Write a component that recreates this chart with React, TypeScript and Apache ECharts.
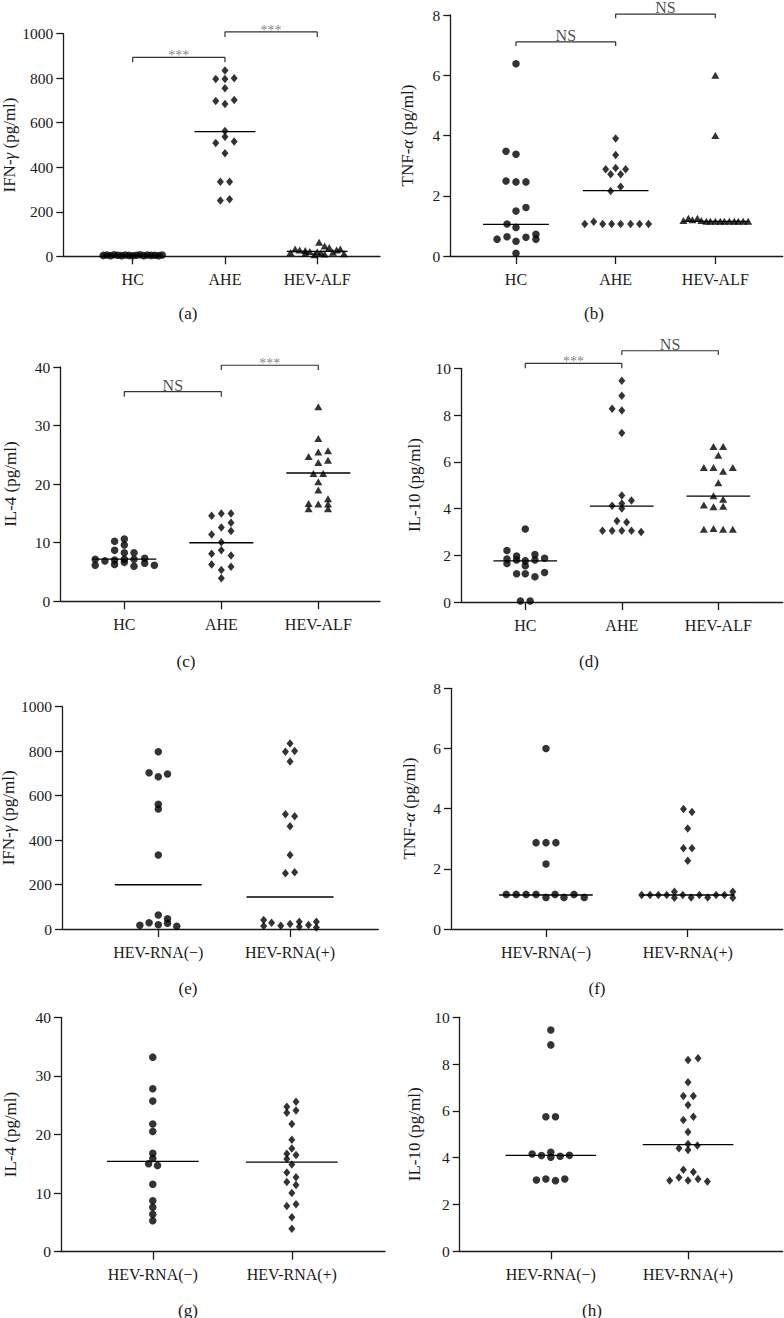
import React, { useEffect, useRef } from "react";
import * as echarts from "echarts";

const FONT = "Liberation Serif";
const CAT3 = ["HC", "AHE", "HEV-ALF"];
const CAT2 = ["HEV-RNA(−)", "HEV-RNA(+)"];

// ---------- (a) IFN-γ ----------
const A_HC = [4, 6, 3, 7, 5, 3, 6, 4, 2, 5, 7, 3, 6, 4, 5, 3, 6];
const A_HC_DX = [-0.32, -0.28, -0.24, -0.2, -0.16, -0.12, -0.08, -0.04, 0, 0.04, 0.08, 0.12, 0.16, 0.2, 0.24, 0.28, 0.32];
const A_AHE = [835, 797, 797, 800, 755, 698, 684, 702, 563, 537, 509, 516, 463, 335, 335, 251, 256];
const A_AHE_DX = [0, -0.1, 0, 0.1, 0, -0.1, 0, 0.1, 0, 0, -0.1, 0.1, 0, -0.05, 0.05, -0.05, 0.05];
const A_ALF = [63, 46, 40, 33, 33, 28, 28, 26, 22, 19, 18, 17, 15, 14, 12, 10, 7];
const A_ALF_DX = [0.02, 0.08, 0.13, -0.24, 0.25, -0.19, 0.21, -0.13, -0.08, 0.0, 0.17, -0.29, 0.04, -0.13, 0.29, 0.08, -0.03];
const A_MED = [5, 560, 22];

// ---------- (b) TNF-α ----------
const B_HC = [6.38, 3.48, 3.38, 2.49, 2.46, 2.46, 1.49, 1.61, 1.06, 0.95, 0.56, 0.64, 0.49, 0.62, 0.72, 0.56, 0.09];
const B_HC_DX = [0, -0.1, 0, -0.1, 0, 0.1, 0, 0.1, -0.09, 0, -0.19, -0.09, 0, 0.1, 0.2, 0.2, 0];
const B_AHE = [3.9, 3.35, 2.88, 2.92, 2.88, 2.71, 2.71, 2.3, 2.16, 1.06, 1.14, 1.06, 1.06, 1.06, 1.06, 1.06, 1.06];
const B_AHE_DX = [0, 0, -0.1, 0, 0.1, -0.05, 0.05, 0.05, -0.05, -0.31, -0.22, -0.13, -0.04, 0.05, 0.15, 0.24, 0.33];
const B_ALF = [6.0, 4.0, 1.18, 1.25, 1.2, 1.25, 1.18, 1.15, 1.15, 1.15, 1.15, 1.15, 1.15, 1.15, 1.15, 1.15, 1.15];
const B_ALF_DX = [0, 0, -0.32, -0.27, -0.23, -0.18, -0.14, -0.09, -0.05, 0, 0.05, 0.09, 0.14, 0.19, 0.23, 0.28, 0.33];
const B_MED = [1.05, 2.17, 1.15];

// ---------- (c) IL-4 ----------
const C_HC = [10.24, 10.64, 9.62, 8.7, 8.3, 8.3, 7.17, 6.9, 7.05, 7.17, 7.17, 7.34, 6.14, 6.3, 6.65, 5.97, 6.49, 6.14];
const C_HC_DX = [-0.1, 0, 0, -0.1, 0, 0.1, -0.3, -0.2, -0.1, 0, 0.1, 0.21, -0.3, -0.1, 0, 0.1, 0.21, 0.31];
const C_AHE = [14.6, 15.0, 15.0, 12.6, 13.4, 11.4, 12.0, 10.1, 8.1, 8.7, 7.8, 6.3, 5.9, 5.35, 3.93];
const C_AHE_DX = [-0.1, 0, 0.1, 0, 0.1, -0.1, 0.1, 0, -0.1, 0, 0.1, -0.1, 0.1, 0, 0];
const C_ALF = [33.2, 27.8, 24.7, 25.5, 25.7, 23.7, 24.1, 21.8, 21.8, 20.4, 19.0, 16.7, 16.6, 17.5, 16.6, 15.8, 15.8];
const C_ALF_DX = [0, 0, -0.1, 0, 0.1, 0, 0.1, -0.05, 0.05, 0, 0, -0.1, 0, 0.1, 0.1, -0.1, 0.1];
const C_MED = [7.2, 10.0, 21.9];

// ---------- (d) IL-10 ----------
const D_HC = [3.12, 2.2, 1.97, 2.03, 1.87, 1.84, 1.8, 1.77, 1.8, 1.65, 1.55, 1.21, 1.21, 1.08, 1.26, 0.04, 0.04];
const D_HC_DX = [0, -0.19, -0.09, 0.1, 0.2, -0.19, -0.09, 0, 0.1, -0.19, 0, -0.09, 0, 0.1, 0.2, -0.05, 0.05];
const D_AHE = [9.47, 8.83, 8.27, 8.19, 7.23, 4.56, 4.12, 4.22, 4.34, 4.0, 3.47, 3.41, 3.05, 3.05, 3.05, 3.05, 3.0];
const D_AHE_DX = [0, 0, -0.1, 0, 0, 0, -0.1, 0, 0.1, 0, -0.05, 0.05, -0.2, -0.1, 0, 0.1, 0.2];
const D_ALF = [6.65, 6.65, 6.28, 5.76, 5.76, 5.6, 5.76, 5.1, 4.55, 4.4, 4.15, 4.08, 4.1, 3.11, 3.15, 3.11, 3.11];
const D_ALF_DX = [-0.05, 0.05, 0, -0.15, -0.05, 0.05, 0.15, 0, -0.05, 0.05, -0.15, -0.05, 0.05, -0.15, -0.05, 0.05, 0.15];
const D_MED = [1.76, 4.1, 4.53];

// ---------- (e) IFN-γ by HEV-RNA ----------
const E_NEG = [797, 703, 685, 697, 561, 540, 333, 63, 46, 28, 17, 19, 26, 12];
const E_NEG_DX = [0, -0.07, 0, 0.07, 0, 0, 0, 0, 0.07, -0.07, -0.14, 0, 0.07, 0.14];
const E_POS = [835, 797, 801, 754, 516, 507, 462, 333, 251, 255, 40, 14, 28, 15, 22, 33, 10, 18, 33, 7];
const E_POS_DX = [0, -0.035, 0.035, 0, -0.035, 0.035, 0, 0, -0.035, 0.035, -0.2, -0.2, -0.14, -0.07, 0, 0.07, 0.07, 0.14, 0.2, 0.2];
const E_MED = [199, 144];

// ---------- (f) TNF-α by HEV-RNA ----------
const F_NEG = [6.0, 2.87, 2.87, 2.87, 2.16, 1.15, 1.15, 1.15, 1.15, 1.05, 1.15, 1.05, 1.15, 1.05];
const F_NEG_DX = [0, -0.07, 0, 0.07, 0, -0.28, -0.21, -0.14, -0.07, 0, 0.064, 0.127, 0.198, 0.27];
const F_POS = [3.99, 3.89, 3.34, 2.68, 2.68, 2.27, 1.13, 1.13, 1.13, 1.13, 1.24, 1.04, 1.13, 1.05, 1.13, 1.05, 1.13, 1.13, 1.24, 1.04];
const F_POS_DX = [-0.03, 0.03, 0, -0.03, 0.03, 0, -0.325, -0.266, -0.207, -0.148, -0.094, -0.094, -0.035, 0.024, 0.082, 0.141, 0.2, 0.259, 0.318, 0.318];
const F_MED = [1.13, 1.13];

// ---------- (g) IL-4 by HEV-RNA ----------
const G_NEG = [33.2, 27.8, 25.7, 21.8, 20.5, 16.8, 15.9, 15.0, 14.7, 11.5, 8.7, 7.6, 6.4, 5.3];
const G_NEG_DX = [0, 0, 0, 0, 0, 0, 0, -0.03, 0.034, 0, 0, 0, 0, 0];
const G_POS = [24.75, 25.6, 23.7, 24.1, 21.8, 19.1, 17.6, 16.7, 16.5, 15.8, 14.9, 13.5, 12.7, 11.9, 11.4, 10.0, 7.8, 8.1, 5.9, 3.9];
const G_POS_DX = [-0.036, 0.03, -0.036, 0.03, 0, 0, 0, -0.036, 0.03, -0.036, 0, -0.036, 0.03, -0.036, 0.03, 0, -0.036, 0.03, 0, 0];
const G_MED = [15.4, 15.3];

// ---------- (h) IL-10 by HEV-RNA ----------
const H_NEG = [9.46, 8.82, 5.75, 5.75, 4.16, 4.09, 4.23, 4.02, 4.06, 4.1, 3.05, 3.09, 3.02, 3.09];
const H_NEG_DX = [0, 0, -0.036, 0.034, -0.136, -0.068, 0, 0, 0.068, 0.136, -0.105, -0.036, 0.034, 0.102];
const H_POS = [8.18, 8.25, 7.22, 6.64, 6.64, 6.25, 5.61, 5.75, 5.1, 4.59, 4.52, 4.4, 4.33, 3.48, 3.39, 3.03, 3.15, 3.03, 3.09, 2.98];
const H_POS_DX = [0, 0.073, 0, -0.034, 0.039, 0, -0.034, 0.039, 0, 0, 0.068, -0.066, 0, -0.034, 0.039, -0.134, -0.066, 0, 0.073, 0.141];
const H_MED = [4.1, 4.56];

// significance brackets: [from group, to group, level, drop, text]
type Sig = [number, number, number, number, string];
const A_SIG: Sig[] = [[1, 2, 894, 22, "***"], [2, 3, 1008, 23, "***"]];
const B_SIG: Sig[] = [[1, 2, 7.11, 0.14, "NS"], [2, 3, 8.03, 0.14, "NS"]];
const C_SIG: Sig[] = [[1, 2, 35.8, 0.9, "NS"], [2, 3, 40.3, 0.8, "***"]];
const D_SIG: Sig[] = [[1, 2, 10.21, 0.21, "***"], [2, 3, 10.75, 0.18, "NS"]];

const Y_NAMES = ["IFN-{i|γ} (pg/ml)", "TNF-{i|α} (pg/ml)", "IL-4 (pg/ml)", "IL-10 (pg/ml)"];
const LETTERS = ["(a)", "(b)", "(c)", "(d)", "(e)", "(f)", "(g)", "(h)"];

const SYM3 = ["circle", "diamond", "triangle"];
const SYM2 = ["circle", "diamond"];
const NOSIG: Sig[] = [];

const PANELS = [
  { cats: CAT3, yMax: 1000, yStep: 200, name: Y_NAMES[0], vals: [A_HC, A_AHE, A_ALF], dx: [A_HC_DX, A_AHE_DX, A_ALF_DX], med: A_MED, sym: SYM3, sig: A_SIG },
  { cats: CAT3, yMax: 8, yStep: 2, name: Y_NAMES[1], vals: [B_HC, B_AHE, B_ALF], dx: [B_HC_DX, B_AHE_DX, B_ALF_DX], med: B_MED, sym: SYM3, sig: B_SIG },
  { cats: CAT3, yMax: 40, yStep: 10, name: Y_NAMES[2], vals: [C_HC, C_AHE, C_ALF], dx: [C_HC_DX, C_AHE_DX, C_ALF_DX], med: C_MED, sym: SYM3, sig: C_SIG },
  { cats: CAT3, yMax: 10, yStep: 2, name: Y_NAMES[3], vals: [D_HC, D_AHE, D_ALF], dx: [D_HC_DX, D_AHE_DX, D_ALF_DX], med: D_MED, sym: SYM3, sig: D_SIG },
  { cats: CAT2, yMax: 1000, yStep: 200, name: Y_NAMES[0], vals: [E_NEG, E_POS], dx: [E_NEG_DX, E_POS_DX], med: E_MED, sym: SYM2, sig: NOSIG },
  { cats: CAT2, yMax: 8, yStep: 2, name: Y_NAMES[1], vals: [F_NEG, F_POS], dx: [F_NEG_DX, F_POS_DX], med: F_MED, sym: SYM2, sig: NOSIG },
  { cats: CAT2, yMax: 40, yStep: 10, name: Y_NAMES[2], vals: [G_NEG, G_POS], dx: [G_NEG_DX, G_POS_DX], med: G_MED, sym: SYM2, sig: NOSIG },
  { cats: CAT2, yMax: 10, yStep: 2, name: Y_NAMES[3], vals: [H_NEG, H_POS], dx: [H_NEG_DX, H_POS_DX], med: H_MED, sym: SYM2, sig: NOSIG },
];

// layout (pixels) of each panel's plotting area and x-range in group units
const LAYOUT = [
  { left: 63.3, top: 33.7, width: 316.7, height: 222.6, xMin: 0.248, xMax: 3.68, gap: 44, lx: 188, ly: 313 },
  { left: 450.3, top: 15, width: 332.4, height: 241, xMin: 0.341, xMax: 3.676, gap: 34, lx: 594, ly: 313 },
  { left: 60.3, top: 367, width: 319.7, height: 234.3, xMin: 0.34, xMax: 3.636, gap: 41, lx: 186, ly: 661 },
  { left: 461, top: 368.3, width: 321.7, height: 233.7, xMin: 0.334, xMax: 3.667, gap: 38, lx: 589, ly: 661 },
  { left: 62, top: 706.7, width: 316.3, height: 222.3, xMin: 0.269, xMax: 2.67, gap: 43, lx: 188, ly: 988 },
  { left: 451, top: 688.3, width: 331.7, height: 240.7, xMin: 0.33, xMax: 2.67, gap: 33, lx: 597, ly: 988 },
  { left: 61, top: 1017.3, width: 324, height: 234.4, xMin: 0.34, xMax: 2.67, gap: 42, lx: 188, ly: 1310 },
  { left: 459.7, top: 1017.3, width: 323, height: 234, xMin: 0.336, xMax: 2.69, gap: 37, lx: 592, ly: 1310 },
];

const INK = "#1a1a1a";
const MED_HALF = 0.33;

function symSize(s: string): number | number[] {
  if (s === "diamond") return [7, 8.5];
  if (s === "triangle") return [8, 7];
  return 7.5;
}

function buildOption() {
  const grid: any[] = [];
  const xAxis: any[] = [];
  const yAxis: any[] = [];
  const series: any[] = [];
  const graphic: any[] = [];

  PANELS.forEach((p, i) => {
    const L = LAYOUT[i];
    const ticks = p.cats.map((_, k) => k + 1);
    grid.push({ left: L.left, top: L.top, width: L.width, height: L.height, outerBoundsMode: "none", containLabel: false });
    xAxis.push({
      gridIndex: i,
      type: "value",
      min: L.xMin,
      max: L.xMax,
      axisLine: { show: true, onZero: false, lineStyle: { color: INK, width: 1.3 } },
      axisTick: { show: true, customValues: ticks, length: 8, lineStyle: { color: INK, width: 1.3 } },
      axisLabel: {
        customValues: ticks,
        formatter: (v: number) => p.cats[Math.round(v) - 1] ?? "",
        margin: 15,
        fontSize: 16,
        color: INK,
        fontFamily: FONT,
      },
      splitLine: { show: false },
    });
    yAxis.push({
      gridIndex: i,
      type: "value",
      min: 0,
      max: p.yMax,
      interval: p.yStep,
      axisLine: { show: true, lineStyle: { color: INK, width: 1.3 } },
      axisTick: { show: true, length: 7, lineStyle: { color: INK, width: 1.3 } },
      axisLabel: { margin: 10, fontSize: 15.5, color: INK, fontFamily: FONT, formatter: (v: number) => String(v) },
      splitLine: { show: false },
      name: p.name,
      nameLocation: "middle",
      nameRotate: 90,
      nameGap: L.gap,
      nameTextStyle: {
        fontSize: 17,
        color: INK,
        fontFamily: FONT,
        rich: { i: { fontSize: 17, fontStyle: "italic", color: INK, fontFamily: FONT } },
      },
    });

    p.vals.forEach((vals, g) => {
      const c = g + 1;
      const dx = p.dx[g];
      series.push({
        type: "scatter",
        xAxisIndex: i,
        yAxisIndex: i,
        symbol: p.sym[g],
        symbolSize: symSize(p.sym[g]),
        itemStyle: { color: "#000" },
        data: vals.map((v, k) => [c + dx[k], v]),
        z: 3,
      });
      series.push({
        type: "line",
        xAxisIndex: i,
        yAxisIndex: i,
        symbol: "none",
        lineStyle: { color: "#000", width: 1.3 },
        data: [[c - MED_HALF, p.med[g]], [c + MED_HALF, p.med[g]]],
        z: 2,
      });
    });

    p.sig.forEach(([a, b, lvl, drop, text]) => {
      series.push({
        type: "line",
        xAxisIndex: i,
        yAxisIndex: i,
        symbol: "none",
        clip: false,
        lineStyle: { color: "#333", width: 1.2 },
        data: [[a, lvl - drop], [a, lvl], [b, lvl], [b, lvl - drop]],
      });
      const star = text === "***";
      series.push({
        type: "scatter",
        xAxisIndex: i,
        yAxisIndex: i,
        clip: false,
        symbolSize: 1,
        itemStyle: { color: "rgba(0,0,0,0)" },
        label: {
          show: true,
          position: "top",
          distance: star ? -6 : -2,
          formatter: text,
          fontSize: star ? 14 : 16,
          color: star ? "#666" : INK,
          fontFamily: FONT,
        },
        data: [[(a + b) / 2, lvl]],
      });
    });

    graphic.push({
      type: "text",
      x: L.lx,
      y: L.ly,
      style: {
        text: LETTERS[i],
        fill: INK,
        font: `17px "${FONT}"`,
        textAlign: "center",
        textVerticalAlign: "middle",
      },
    });
  });

  return {
    animation: false,
    backgroundColor: "#ffffff",
    grid,
    xAxis,
    yAxis,
    series,
    graphic,
  };
}

export default function App() {
  const ref = useRef<HTMLDivElement>(null);
  useEffect(() => {
    if (!ref.current) return;
    const chart = echarts.init(ref.current, null, { renderer: "svg" });
    chart.setOption(buildOption() as any);
    return () => chart.dispose();
  }, []);
  return (
    <div
      ref={ref}
      style={{ position: "absolute", left: 0, top: 0, width: 784, height: 1318, background: "#fff" }}
    />
  );
}
